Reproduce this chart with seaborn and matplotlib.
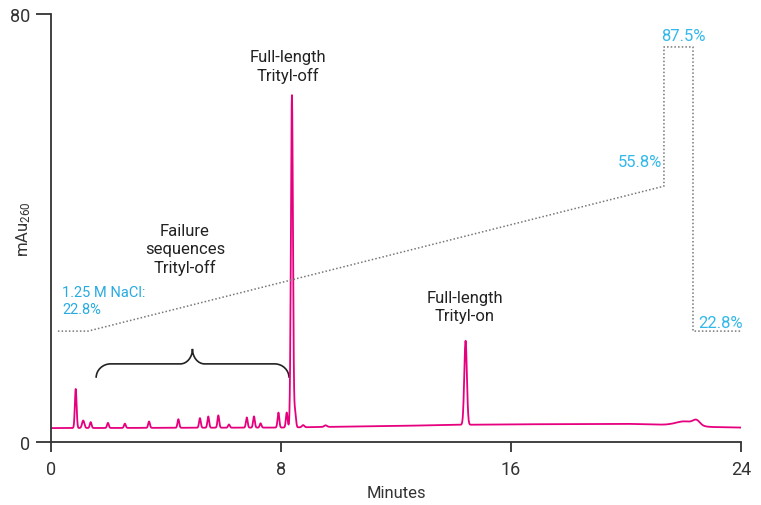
import numpy as np
import pandas as pd
import matplotlib
matplotlib.use("Agg")
import matplotlib.pyplot as plt
from matplotlib.path import Path
from matplotlib.patches import PathPatch
import seaborn as sns

# ---------------- data ----------------
# chromatogram peaks: retention time (min), height above baseline (mAu), width (sigma, min)
peak_times = [0.86, 1.12, 1.38, 1.98, 2.57, 3.41, 4.43, 5.18, 5.47, 5.82, 6.19,
              6.81, 7.06, 7.29, 7.91, 8.20, 8.38, 8.49, 8.77, 9.55, 14.42, 22.05, 22.45]
peak_heights = [7.3, 1.4, 1.1, 0.95, 0.8, 1.2, 1.6, 1.8, 2.1, 2.3, 0.6,
                1.9, 2.1, 0.8, 2.8, 2.8, 62.1, 3.0, 0.4, 0.3, 15.7, 0.8, 0.9]
peak_widths = [0.03, 0.04, 0.03, 0.03, 0.03, 0.03, 0.03, 0.03, 0.03, 0.03, 0.03,
               0.03, 0.03, 0.03, 0.03, 0.03, 0.035, 0.03, 0.04, 0.05, 0.045, 0.3, 0.12]
# baseline drift (min, mAu)
base_times = [0, 8, 12, 14, 16, 20, 21.5, 23, 24]
base_values = [2.6, 2.7, 3.0, 3.2, 3.3, 3.4, 3.2, 2.8, 2.7]
# gap in the recorded trace (min)
gap_start, gap_end = 12.66, 12.78

# NaCl gradient program (min, %)
grad_times = [0.24, 1.29, 21.32, 21.32, 22.33, 22.33, 24.0]
grad_pct = [22.8, 22.8, 55.8, 87.5, 87.5, 22.8, 22.8]

x_ticks = [0, 8, 16, 24]
y_ticks = [0, 80]

# ---------------- build trace ----------------
t = np.arange(0, 24.0001, 0.004)
signal = np.interp(t, base_times, base_values)
for pt, ph, pw in zip(peak_times, peak_heights, peak_widths):
    signal = signal + ph * np.exp(-0.5 * ((t - pt) / pw) ** 2)
signal[(t > gap_start) & (t < gap_end)] = np.nan
trace = pd.DataFrame({"Minutes": t, "mAu": signal})
grad = pd.DataFrame({"Minutes": grad_times, "pct": grad_pct})

# ---------------- style ----------------
sns.set_style("ticks")
plt.rcParams["font.family"] = ["Roboto", "DejaVu Sans"]
plt.rcParams["mathtext.default"] = "regular"

dark = "#333333"
pink = "#E6007E"
blue = "#29ABE2"

fig = plt.figure(figsize=(7.61, 5.06), dpi=100)
ax = fig.add_axes([51 / 761, 1 - 443 / 506, 690 / 761, 428 / 506])

sns.lineplot(data=trace, x="Minutes", y="mAu", ax=ax, color=pink, lw=1.3,
             estimator=None, sort=False)

ax.set_xlim(0, 24)
ax.set_ylim(0, 80)
ax.set_xticks(x_ticks)
ax.set_yticks(y_ticks)
ax.set_xlabel("Minutes", fontsize=12, color=dark, labelpad=5)
ax.set_ylabel("mAu$_{260}$", fontsize=12, color=dark)
ax.yaxis.set_label_coords(-0.026, 0.5)
for s in ["top", "right"]:
    ax.spines[s].set_visible(False)
for s in ["left", "bottom"]:
    ax.spines[s].set_color(dark)
    ax.spines[s].set_linewidth(1.3)
ax.tick_params(axis="y", length=11, width=1.3, color=dark, labelsize=13, labelcolor=dark, pad=4)
ax.tick_params(axis="x", length=7, width=1.3, color=dark, labelsize=13, labelcolor=dark, pad=6)

# gradient on a hidden secondary axis
ax2 = ax.twinx()
sns.lineplot(data=grad, x="Minutes", y="pct", ax=ax2, color="#777777", lw=1.1,
             linestyle=(0, (1, 1.4)), estimator=None, sort=False)
ax2.set_ylim(-2.45, 95)
ax2.set_xlim(0, 24)
ax2.axis("off")

# gradient labels
ax.text(21.98, 75.9, "87.5%", color="#33B8EA", fontsize=12, ha="center", va="center")
ax.text(21.25, 52.5, "55.8%", color="#33B8EA", fontsize=12, ha="right", va="center")
ax.text(22.5, 22.4, "22.8%", color="#33B8EA", fontsize=12, ha="left", va="center")
ax.text(0.38, 26.4, "1.25 M NaCl:\n22.8%", color=blue, fontsize=10.5, ha="left",
        va="center", linespacing=1.3)

# peak labels
ax.text(8.24, 70.3, "Full-length\nTrityl-off", color="#222222", fontsize=12,
        ha="center", va="center", linespacing=1.25)
ax.text(4.66, 36.1, "Failure\nsequences\nTrityl-off", color="#222222", fontsize=12,
        ha="center", va="center", linespacing=1.25)
ax.text(14.4, 25.3, "Full-length\nTrityl-on", color="#222222", fontsize=12,
        ha="center", va="center", linespacing=1.25)

# curly brace over failure sequences
x0, x1, xm = 1.57, 8.28, 4.92
yb, yh, yt = 12.0, 14.6, 17.4
r = 0.5     # end arc radius (min)
rt = 0.42   # tip arc half-width (min)
k = 0.55
verts = [(x0, yb),
         (x0, yb + k * (yh - yb)), (x0 + (1 - k) * r, yh), (x0 + r, yh),
         (xm - rt, yh),
         (xm - (1 - k) * rt, yh), (xm, yh + (1 - k) * (yt - yh)), (xm, yt),
         (xm, yh + (1 - k) * (yt - yh)), (xm + (1 - k) * rt, yh), (xm + rt, yh),
         (x1 - r, yh),
         (x1 - (1 - k) * r, yh), (x1, yb + k * (yh - yb)), (x1, yb)]
codes = [Path.MOVETO,
         Path.CURVE4, Path.CURVE4, Path.CURVE4,
         Path.LINETO,
         Path.CURVE4, Path.CURVE4, Path.CURVE4,
         Path.CURVE4, Path.CURVE4, Path.CURVE4,
         Path.LINETO,
         Path.CURVE4, Path.CURVE4, Path.CURVE4]
ax.add_patch(PathPatch(Path(verts, codes), fill=False, edgecolor="#222222", lw=1.2))

fig.savefig("out.png", dpi=100)
